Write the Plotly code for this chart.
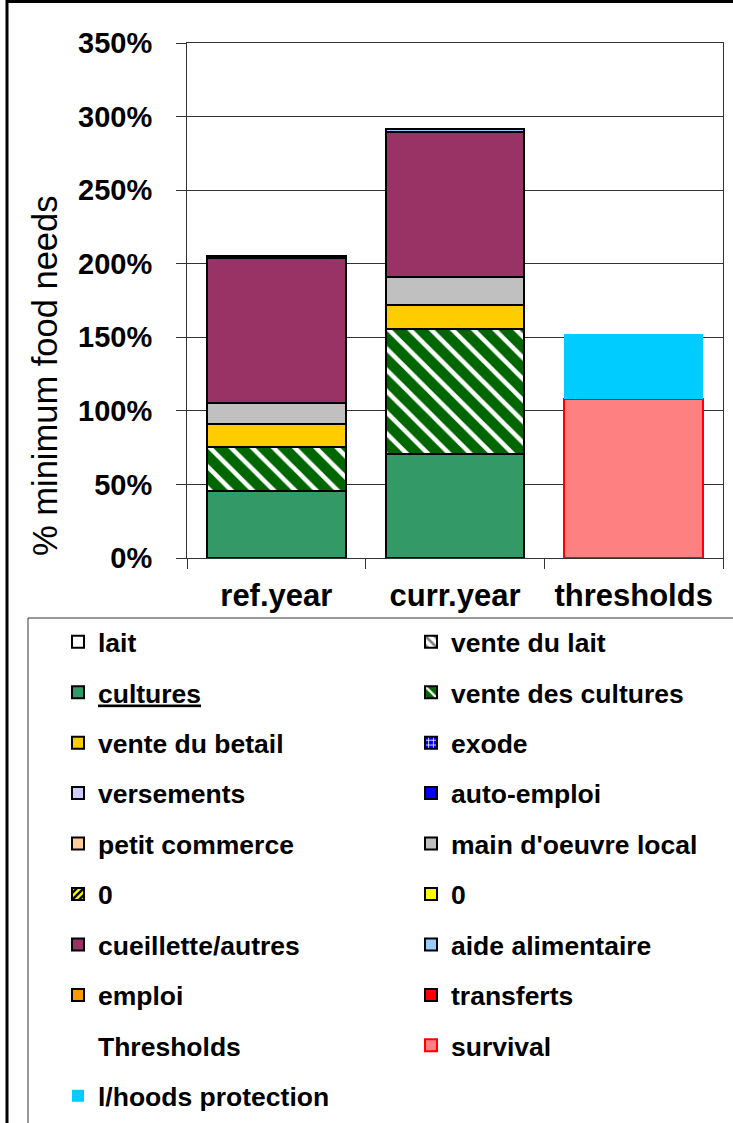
import plotly.graph_objects as go

# ---------------- data ----------------
categories = ["ref.year", "curr.year", "thresholds"]

lait = [0, 0, 0]
vente_du_lait = [0, 0, 0]
cultures = [45.6, 70.8, 0]
vente_des_cultures = [29.8, 84.9, 0]
vente_du_betail = [15.6, 16.5, 0]
exode = [0, 0, 0]
versements = [0, 0, 0]
auto_emploi = [0, 0, 0]
petit_commerce = [0, 0, 0]
main_oeuvre_local = [14.3, 18.8, 0]
zero_a = [0, 0, 0]
zero_b = [0, 0, 0]
cueillette_autres = [98.9, 98.5, 0]
aide_alimentaire = [0, 2.3, 0]
emploi = [0, 0, 0]
transferts = [0.8, 0, 0]
thresholds_label = [0, 0, 0]
survival = [0, 0, 108]
lhoods_protection = [0, 0, 44.5]

y_ticks = [0, 50, 100, 150, 200, 250, 300, 350]

FONT = "Arial, Liberation Sans, sans-serif"

# name, values, color, legend, line color, line width, pattern
series = [
    ("lait", lait, "#FFFFFF", "legend", "black", 2, None),
    ("vente du lait", vente_du_lait, "#FFFFFF", "legend2", "black", 2,
     dict(shape="\\", fgcolor="#808080", bgcolor="#FFFFFF", size=8, solidity=0.4, fgopacity=1)),
    ('<span style="text-decoration:underline">cultures</span>', cultures, "#339966", "legend", "black", 2, None),
    ("vente des cultures", vente_des_cultures, "#006600", "legend2", "black", 2,
     dict(shape="\\", fgcolor="#FFFFFF", bgcolor="#006600", size=15, solidity=0.3, fgopacity=1)),
    ("vente du betail", vente_du_betail, "#FFCC00", "legend", "black", 2, None),
    ("exode", exode, "#0000FF", "legend2", "black", 2,
     dict(shape="+", fgcolor="#FFFFFF", bgcolor="#0000FF", size=6, solidity=0.3, fgopacity=1)),
    ("versements", versements, "#CCCCFF", "legend", "black", 2, None),
    ("auto-emploi", auto_emploi, "#0000FF", "legend2", "black", 2, None),
    ("petit commerce", petit_commerce, "#FFCC99", "legend", "black", 2, None),
    ("main d'oeuvre local", main_oeuvre_local, "#C0C0C0", "legend2", "black", 2, None),
    ("0", zero_a, "#FFFF00", "legend", "black", 2,
     dict(shape="/", fgcolor="#000000", bgcolor="#FFFF00", size=6, solidity=0.5, fgopacity=1)),
    ("0 ", zero_b, "#FFFF00", "legend2", "black", 2, None),
    ("cueillette/autres", cueillette_autres, "#993366", "legend", "black", 2, None),
    ("aide alimentaire", aide_alimentaire, "#99CCFF", "legend2", "black", 2, None),
    ("emploi", emploi, "#FF9900", "legend", "black", 2, None),
    ("transferts", transferts, "#FF0000", "legend2", "black", 2, None),
    ("Thresholds", thresholds_label, "rgba(0,0,0,0)", "legend", "rgba(0,0,0,0)", 0, None),
    ("survival", survival, "#FF8080", "legend2", "#FF0000", 2, None),
    ("l/hoods protection", lhoods_protection, "#00CCFF", "legend", "#00CCFF", 0, None),
]

fig = go.Figure()
for i, (name, vals, color, leg, lcolor, lwidth, pattern) in enumerate(series):
    marker = dict(color=color, line=dict(color=lcolor, width=lwidth))
    if pattern is not None:
        marker["pattern"] = pattern
    # zero-valued segments are not drawn (avoid zero-height outlines)
    yvals = [v if v else None for v in vals]
    fig.add_trace(go.Bar(
        x=categories, y=yvals, name=name, marker=marker,
        legend=leg, legendgroup="g%d" % i, hoverinfo="skip",
    ))

W, H = 733, 1123
L, R, T, B = 187, 10, 43, 565
pw = W - L - R
ph = H - T - B


def px_x(x):
    return (x - L) / pw


def px_y(y):
    return 1 - (y - T) / ph


legend_font = dict(family=FONT, size=26.5, color="black", weight="bold")

fig.update_layout(
    width=W, height=H,
    margin=dict(l=L, r=R, t=T, b=B, autoexpand=False),
    barmode="stack",
    bargap=0.223,
    paper_bgcolor="white",
    plot_bgcolor="white",
    font=dict(family=FONT, color="black"),
    xaxis=dict(
        type="category",
        tickson="boundaries",
        ticks="outside", ticklen=10, tickcolor="#333", tickwidth=1,
        showline=True, linecolor="#333", linewidth=1, mirror=True,
        showgrid=False,
        ticklabelstandoff=10,
        tickfont=dict(family=FONT, size=31, color="black", weight="bold"),
    ),
    yaxis=dict(
        range=[0, 350],
        tickvals=y_ticks,
        ticktext=["%d%%" % v for v in y_ticks],
        ticks="outside", ticklen=10, tickcolor="#333", tickwidth=1,
        showline=True, linecolor="#333", linewidth=1, mirror=True,
        showgrid=True, gridcolor="#333", gridwidth=1,
        zeroline=False,
        ticklabelstandoff=18,
        tickfont=dict(family=FONT, size=29, color="black", weight="bold"),
    ),
    legend=dict(
        x=px_x(58), y=px_y(618), xanchor="left", yanchor="top",
        orientation="v", traceorder="grouped", tracegroupgap=13,
        bgcolor="rgba(0,0,0,0)", borderwidth=0, font=legend_font,
    ),
    legend2=dict(
        x=px_x(411), y=px_y(618), xanchor="left", yanchor="top",
        orientation="v", traceorder="grouped", tracegroupgap=13,
        bgcolor="rgba(0,0,0,0)", borderwidth=0, font=legend_font,
    ),
    shapes=[
        # legend frame
        dict(type="rect", xref="paper", yref="paper",
             x0=px_x(28), x1=px_x(745), y0=px_y(618), y1=px_y(1140),
             line=dict(color="#333", width=1), fillcolor="rgba(0,0,0,0)", layer="below"),
        # outer frame
        dict(type="rect", xref="paper", yref="paper",
             x0=px_x(7), x1=px_x(760), y0=px_y(1.5), y1=px_y(1160),
             line=dict(color="black", width=3), fillcolor="rgba(0,0,0,0)"),
    ],
    annotations=[
        dict(text="% minimum food needs", textangle=-90,
             xref="paper", yref="paper", x=px_x(45), y=px_y(376),
             xanchor="center", yanchor="middle", showarrow=False,
             font=dict(family=FONT, size=34.5, color="black")),
    ],
)

fig.write_html(
    "out.html",
    config={"displayModeBar": False, "staticPlot": True},
    post_script="document.body.style.margin='0';document.body.style.overflow='hidden';",
)
